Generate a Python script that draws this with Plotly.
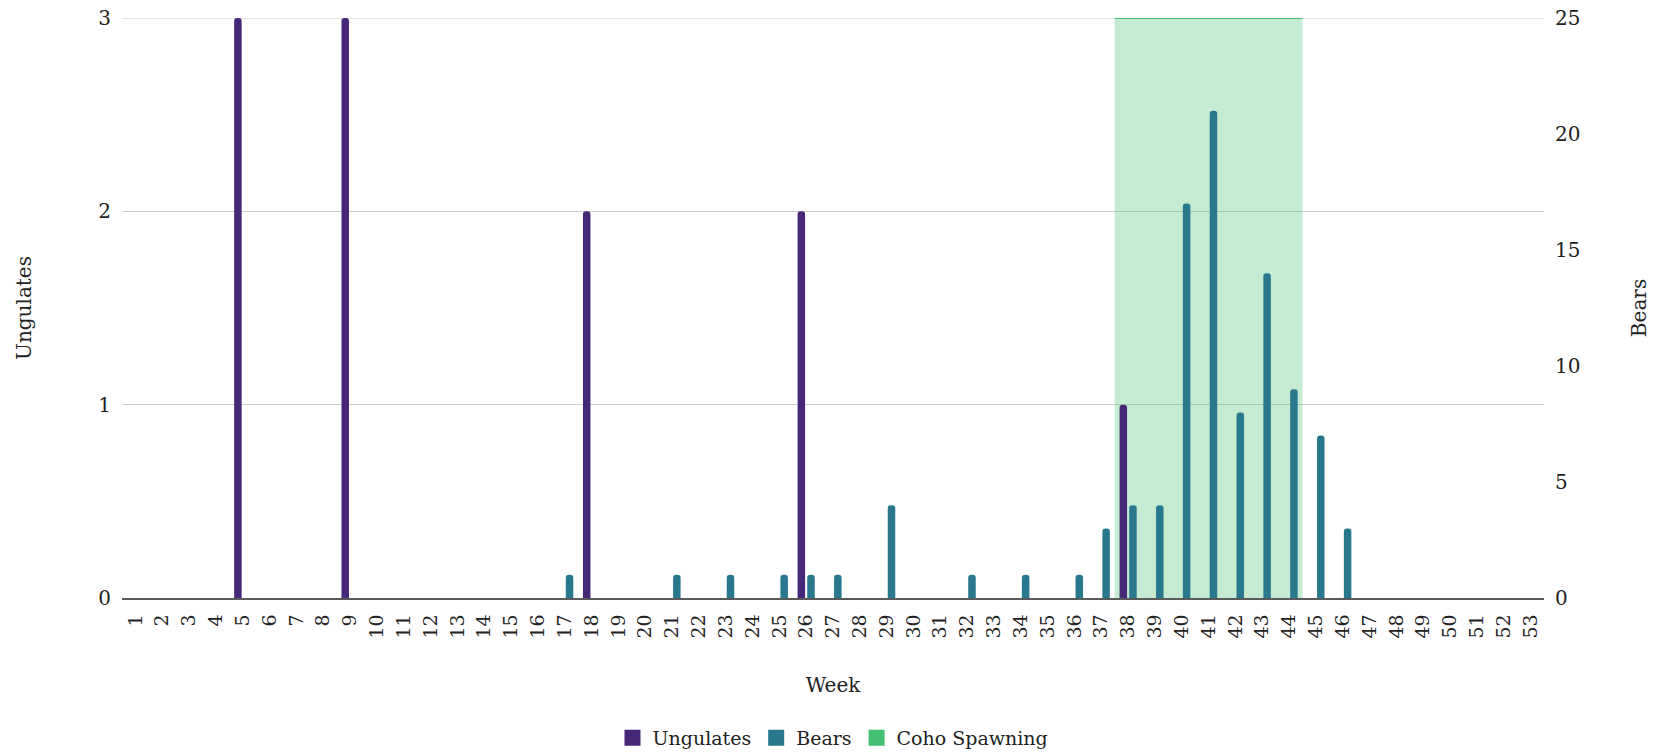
import plotly.graph_objects as go

weeks = list(range(1, 54))
week_labels = [str(w) for w in weeks]

ungulate_weeks = [5, 9, 18, 26, 38]
ungulate_counts = [3, 3, 2, 2, 1]

bear_weeks = [17, 21, 23, 25, 26, 27, 29, 32, 34, 36, 37, 38, 39, 40, 41, 42, 43, 44, 45, 46]
bear_counts = [1, 1, 1, 1, 1, 1, 4, 1, 1, 1, 3, 4, 4, 17, 21, 8, 14, 9, 7, 3]

coho_weeks = [38, 39, 40, 41, 42, 43, 44]
coho_level = [3, 3, 3, 3, 3, 3, 3]

ungulate_ticks = [0, 1, 2, 3]
bear_ticks = [0, 5, 10, 15, 20, 25]

PURPLE = "#472777"
TEAL = "#2a788e"
GREEN = "#43bf71"
FONT = "DejaVu Serif"
TXT = "#222222"
GRID = "#cccccc"

fig = go.Figure()

# Coho spawning shading (full category width)
fig.add_trace(go.Bar(
    x=coho_weeks, y=coho_level, width=1.0, offset=-0.5,
    marker=dict(color="rgba(67,191,113,0.31)", line=dict(width=0)),
    name="Coho Spawning", showlegend=False, yaxis="y", hoverinfo="skip",
))
# top line of the spawning band
fig.add_trace(go.Scatter(
    x=[min(coho_weeks) - 0.5, max(coho_weeks) + 0.5],
    y=[max(coho_level), max(coho_level)],
    mode="lines", line=dict(color=GREEN, width=2),
    showlegend=False, hoverinfo="skip", yaxis="y",
))

fig.add_trace(go.Bar(
    x=ungulate_weeks, y=ungulate_counts, width=0.28, offset=-0.32,
    marker=dict(color=PURPLE, cornerradius=4, line=dict(width=0)),
    name="Ungulates", yaxis="y", showlegend=False,
))
fig.add_trace(go.Bar(
    x=bear_weeks, y=bear_counts, width=0.28, offset=0.04,
    marker=dict(color=TEAL, cornerradius=4, line=dict(width=0)),
    name="Bears", yaxis="y2", showlegend=False,
))

# legend entries (square swatches)
for nm, col in [("Ungulates", PURPLE), ("Bears", TEAL), ("Coho Spawning", GREEN)]:
    fig.add_trace(go.Scatter(
        x=[None], y=[None], mode="markers", name=nm,
        marker=dict(symbol="square", size=16, color=col),
    ))

# top gridline (at the last left-axis tick), drawn below the traces
fig.add_shape(type="line", xref="paper", x0=0, x1=1, yref="y",
              y0=ungulate_ticks[-1], y1=ungulate_ticks[-1],
              line=dict(color=GRID, width=1.2), layer="below")

fig.update_layout(
    width=1667, height=756,
    margin=dict(l=122, r=123, t=18, b=158, autoexpand=False),
    paper_bgcolor="white", plot_bgcolor="white",
    barmode="overlay",
    font=dict(family=FONT, size=20, color=TXT),
    showlegend=True,
    legend=dict(orientation="h", x=0.5, xanchor="center",
                yref="container", y=0.024, yanchor="middle",
                font=dict(size=19, color=TXT), traceorder="normal",
                itemsizing="trace", itemwidth=30),
    xaxis=dict(
        range=[0.5, 53.5], tickmode="array", tickvals=weeks, ticktext=week_labels,
        tickangle=-90, showgrid=False, zeroline=False, automargin=False,
        showline=True, linecolor="#5a5a5a", linewidth=1.5,
        ticks="", ticklabelstandoff=7,
        tickfont=dict(size=19),
        title=dict(text="Week", font=dict(size=20), standoff=40),
    ),
    yaxis=dict(
        range=[0, 3], tickvals=ungulate_ticks, showgrid=True, gridcolor=GRID,
        gridwidth=1.2, zeroline=False, showline=False, ticks="", automargin=False,
        ticklabelstandoff=10,
        title=dict(text="Ungulates", font=dict(size=20), standoff=61),
    ),
    yaxis2=dict(
        range=[0, 25], tickvals=bear_ticks, overlaying="y", side="right",
        showgrid=False, zeroline=False, showline=False, ticks="", automargin=False,
        ticklabelstandoff=10,
        title=dict(text="Bears", font=dict(size=20), standoff=52),
    ),
)

fig.write_html("out.html", config={"displayModeBar": False},
               post_script="document.body.style.margin='0';document.body.style.overflow='hidden';")
